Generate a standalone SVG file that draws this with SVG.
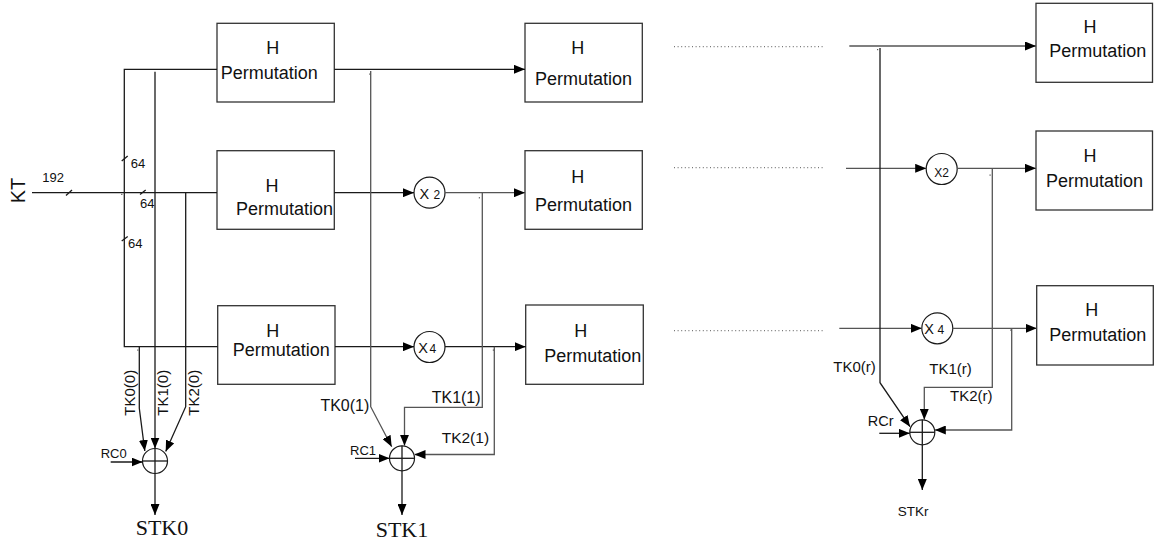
<svg xmlns="http://www.w3.org/2000/svg" width="1158" height="545" viewBox="0 0 1158 545">
<style>
.box{fill:#fff;stroke:#333;stroke-width:1.3}
.ln{fill:none;stroke:#1a1a1a;stroke-width:1.3}
.lg{fill:none;stroke:#555;stroke-width:1.3}
.dot{fill:none;stroke:#777;stroke-width:1.2;stroke-dasharray:1 2.6}
.circ{fill:#fff;stroke:#1a1a1a;stroke-width:1.2}
.t{font-family:"Liberation Sans",Arial,sans-serif;fill:#111}
.bt{font-family:"Liberation Sans",Arial,sans-serif;font-size:18px;fill:#111}
.sv{font-family:"Liberation Serif","Times New Roman",serif;font-size:22px;fill:#111}
.px{fill:#555}
</style>
<defs>
<marker id="ah" viewBox="0 0 11 9" refX="11" refY="4.5" markerWidth="11" markerHeight="9" markerUnits="userSpaceOnUse" orient="auto">
<path d="M0,0 L11,4.5 L0,9 z" fill="#000"/>
</marker>
</defs>

<!-- KT input -->
<g id="kt">
<text class="t" font-size="20" transform="translate(25,190.5) rotate(-90)" text-anchor="middle">KT</text>
<text class="t" font-size="13" x="42.3" y="182.3">192</text>
<text class="t" font-size="13" x="130.7" y="167.7">64</text>
<text class="t" font-size="13" x="140" y="207.7">64</text>
<text class="t" font-size="13" x="128" y="247.7">64</text>
</g>

<!-- Boxes -->
<g id="h00"><rect class="box" x="217" y="23.3" width="117.3" height="78.7"/><text class="bt" x="272.7" y="54" text-anchor="middle">H</text><text class="bt" x="220.7" y="79">Permutation</text></g>
<g id="h10"><rect class="box" x="217" y="150.7" width="117.3" height="78.6"/><text class="bt" x="272" y="192" text-anchor="middle">H</text><text class="bt" x="236" y="215">Permutation</text></g>
<g id="h20"><rect class="box" x="217.7" y="305.7" width="117.3" height="78.6"/><text class="bt" x="272.7" y="336.7" text-anchor="middle">H</text><text class="bt" x="232.7" y="356">Permutation</text></g>
<g id="h01"><rect class="box" x="525" y="23.3" width="117.3" height="78.7"/><text class="bt" x="577.7" y="54" text-anchor="middle">H</text><text class="bt" x="535" y="84.5">Permutation</text></g>
<g id="h11"><rect class="box" x="525" y="150.7" width="117.3" height="78.6"/><text class="bt" x="577.7" y="182.7" text-anchor="middle">H</text><text class="bt" x="535" y="210.5">Permutation</text></g>
<g id="h21"><rect class="box" x="525.7" y="305" width="117.6" height="79.3"/><text class="bt" x="580.7" y="337" text-anchor="middle">H</text><text class="bt" x="544.3" y="361.7">Permutation</text></g>
<g id="h0r"><rect class="box" x="1036" y="3.3" width="116.5" height="79"/><text class="bt" x="1090" y="32.5" text-anchor="middle">H</text><text class="bt" x="1049.3" y="57.3">Permutation</text></g>
<g id="h1r"><rect class="box" x="1036" y="131" width="116.5" height="79"/><text class="bt" x="1090" y="162.3" text-anchor="middle">H</text><text class="bt" x="1046" y="187">Permutation</text></g>
<g id="h2r"><rect class="box" x="1036.7" y="285.7" width="116.6" height="79.3"/><text class="bt" x="1091.7" y="315.7" text-anchor="middle">H</text><text class="bt" x="1049.3" y="341">Permutation</text></g>

<!-- Multipliers -->
<g id="x2a"><circle class="circ" cx="429.5" cy="192.7" r="15.5"/><text class="t" font-size="14.5" x="419.5" y="198.5">X</text><text class="t" font-size="12" x="433.5" y="198.5">2</text></g>
<g id="x4a"><circle class="circ" cx="429.5" cy="347" r="15.5"/><text class="t" font-size="14.5" x="418.3" y="353">X</text><text class="t" font-size="12" x="429.5" y="353">4</text></g>
<g id="x2r"><circle class="circ" cx="941.7" cy="169" r="15.5"/><text class="t" font-size="12" x="941.7" y="176.5" text-anchor="middle">X2</text></g>
<g id="x4r"><circle class="circ" cx="937.3" cy="328.3" r="15.5"/><text class="t" font-size="14.5" x="924.3" y="334">X</text><text class="t" font-size="12" x="937.5" y="334">4</text></g>

<!-- XOR nodes -->
<g id="xor0"><circle class="circ" cx="155" cy="461" r="12.5"/><line class="ln" x1="142.5" y1="461" x2="167.5" y2="461"/></g>
<g id="xor1"><circle class="circ" cx="402" cy="458.3" r="12.5"/><line class="ln" x1="389.5" y1="458.3" x2="414.5" y2="458.3"/><line class="ln" x1="402" y1="445.8" x2="402" y2="470.8"/></g>
<g id="xorr"><circle class="circ" cx="922.3" cy="432.3" r="12.5"/><line class="ln" x1="909.8" y1="432.3" x2="934.8" y2="432.3"/><line class="ln" x1="922.3" y1="419.8" x2="922.3" y2="444.8"/></g>

<!-- Connectors -->
<g id="connectors">
<!-- left column -->
<line class="ln" x1="32" y1="192.7" x2="217" y2="192.7"/>
<path class="ln" d="M217,69.3 H124.3 V346.7 H217.7"/>
<line class="ln" x1="66" y1="195.5" x2="72" y2="190"/>
<line class="ln" x1="140" y1="194.5" x2="145.7" y2="190"/>
<line class="ln" x1="121.7" y1="161" x2="127.7" y2="156"/>
<line class="ln" x1="121.7" y1="241" x2="127.7" y2="236.5"/>
<line class="ln" x1="155" y1="71.7" x2="155" y2="448.5" marker-end="url(#ah)"/>
<line class="ln" x1="155" y1="448.5" x2="155" y2="515" marker-end="url(#ah)"/>
<path class="ln" d="M139.3,346.7 V408.3 L144.8,451" marker-end="url(#ah)"/>
<path class="ln" d="M185.7,192.7 V406.7 L165.7,451.5" marker-end="url(#ah)"/>
<line class="ln" x1="110.7" y1="462" x2="142.5" y2="462" marker-end="url(#ah)"/>

<!-- middle column -->
<line class="ln" x1="334.3" y1="69.3" x2="525" y2="69.3" marker-end="url(#ah)"/>
<line class="ln" x1="334.3" y1="192.7" x2="414" y2="192.7" marker-end="url(#ah)"/>
<line class="lg" x1="445" y1="192.7" x2="525" y2="192.7" marker-end="url(#ah)"/>
<line class="ln" x1="335" y1="346.7" x2="414" y2="346.7" marker-end="url(#ah)"/>
<line class="ln" x1="445" y1="346.7" x2="525.7" y2="346.7" marker-end="url(#ah)"/>
<path class="lg" d="M370.7,71 V406.7 L391.7,446.7" marker-end="url(#ah)"/>
<path class="lg" d="M482.3,192.7 V407.3 H404.5 V445.8" marker-end="url(#ah)"/>
<path class="lg" d="M494.3,346.7 V454.5 H414.5" marker-end="url(#ah)"/>
<line class="ln" x1="355" y1="458.3" x2="389.5" y2="458.3" marker-end="url(#ah)"/>
<line class="ln" x1="402" y1="470.8" x2="402" y2="515" marker-end="url(#ah)"/>

<!-- dotted continuations -->
<line class="dot" x1="674" y1="46.7" x2="823" y2="46.7"/>
<line class="dot" x1="674" y1="167.7" x2="823" y2="167.7"/>
<line class="dot" x1="674" y1="330.7" x2="823" y2="330.7"/>

<!-- right column -->
<line class="lg" x1="849.3" y1="46" x2="1036" y2="46" marker-end="url(#ah)"/>
<line class="lg" x1="846" y1="168.3" x2="926.2" y2="168.3" marker-end="url(#ah)"/>
<line class="lg" x1="957.2" y1="168.3" x2="1036" y2="168.3" marker-end="url(#ah)"/>
<line class="lg" x1="839.3" y1="328.3" x2="921.8" y2="328.3" marker-end="url(#ah)"/>
<line class="lg" x1="952.8" y1="328.3" x2="1036.7" y2="328.3" marker-end="url(#ah)"/>
<path class="ln" d="M880,48 V382.7 L910,426.7" marker-end="url(#ah)"/>
<path class="lg" d="M992.3,168.3 V387.3 H924.3 V419.8" marker-end="url(#ah)"/>
<path class="lg" d="M1011.7,328.3 V430 H934.8" marker-end="url(#ah)"/>
<line class="ln" x1="879.3" y1="433.3" x2="909.8" y2="433.3" marker-end="url(#ah)"/>
<line class="ln" x1="922.3" y1="444.8" x2="922.3" y2="490" marker-end="url(#ah)"/>

<!-- tiny junction dots -->
<rect class="px" x="369.2" y="73.5" width="1.2" height="1.2"/>
<rect class="px" x="478.8" y="197.2" width="1.2" height="1.2"/>
<rect class="px" x="492.8" y="349.5" width="1.2" height="1.2"/>
<rect class="px" x="137.2" y="349.5" width="1.2" height="1.2"/>
<rect class="px" x="121.2" y="193.8" width="1.2" height="1.2"/>
<rect class="px" x="877" y="49" width="1.2" height="1.2"/>
<rect class="px" x="989.5" y="174.5" width="1.2" height="1.2"/>
<rect class="px" x="1010.2" y="329.5" width="1.2" height="1.2"/>
</g>

<!-- labels -->
<g id="labels">
<text class="t" font-size="15" transform="translate(134.5,415.7) rotate(-90)">TK0(0)</text>
<text class="t" font-size="15" transform="translate(167.5,415.7) rotate(-90)">TK1(0)</text>
<text class="t" font-size="15" transform="translate(198.5,415.7) rotate(-90)">TK2(0)</text>
<text class="t" font-size="13" x="100.7" y="458.3">RC0</text>
<text class="sv" x="135.7" y="534.5">STK0</text>
<text class="t" font-size="16" x="369.3" y="410.7" text-anchor="end">TK0(1)</text>
<text class="t" font-size="16" x="431.7" y="403.3">TK1(1)</text>
<text class="t" font-size="15.5" x="441.7" y="442.7">TK2(1)</text>
<text class="t" font-size="13" x="350" y="455">RC1</text>
<text class="sv" x="375.7" y="536.7">STK1</text>
<text class="t" font-size="15" x="833.3" y="371.7">TK0(r)</text>
<text class="t" font-size="15" x="929.3" y="374">TK1(r)</text>
<text class="t" font-size="15" x="950" y="401">TK2(r)</text>
<text class="t" font-size="14.5" x="867.7" y="426">RCr</text>
<text class="t" font-size="13.5" x="897.7" y="516">STKr</text>
</g>
</svg>
